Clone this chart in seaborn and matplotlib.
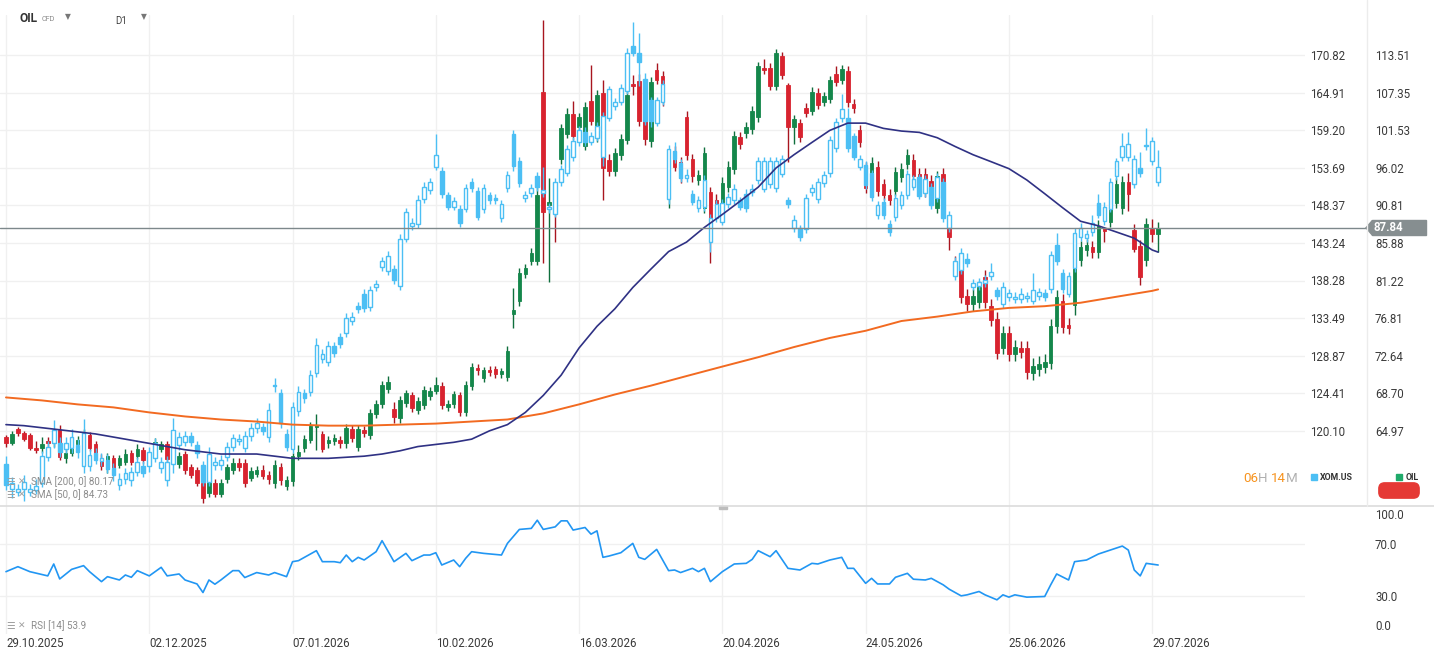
import numpy as np
import matplotlib
matplotlib.use("Agg")
import matplotlib.pyplot as plt
import matplotlib.transforms as mtransforms
from matplotlib.patches import Rectangle, Polygon, FancyBboxPatch
from matplotlib.lines import Line2D
from matplotlib.ticker import FixedLocator, NullLocator
import seaborn as sns

sns.set_theme(style="white")
plt.rcParams["font.family"] = ["Roboto", "DejaVu Sans"]

# ---------------- data ----------------
dates = ["29.10.2025", "02.12.2025", "07.01.2026", "10.02.2026", "16.03.2026",
         "20.04.2026", "24.05.2026", "25.06.2026", "29.07.2026"]
date_idx = [0, 24, 48, 72, 96, 120, 144, 168, 192]

xom_ticks = [120.10, 124.41, 128.87, 133.49, 138.28, 143.24, 148.37, 153.69, 159.20, 164.91, 170.82]
oil_ticks = [64.97, 68.70, 72.64, 76.81, 81.22, 85.88, 90.81, 96.02, 101.53, 107.35, 113.51]
oil_last = 87.84

oil_open = [64.4, 63.8, 65.2, 64.8, 64.6, 63.4, 63.4, 64.0, 63.8, 65.1,
            62.4, 62.9, 63.7, 64.1, 64.6, 63.7, 62.4, 61.4, 62.4, 61.8,
            62.1, 62.9, 62.6, 63.2, 62.2, 63.0, 63.3, 63.7, 62.3, 61.9,
            62.8, 61.6, 61.3, 60.2, 59.3, 60.2, 59.2, 60.5, 61.3, 62.0,
            62.0, 60.6, 61.0, 61.3, 60.9, 60.2, 61.6, 59.9, 60.3, 62.6,
            63.4, 64.1, 65.4, 64.7, 63.8, 64.0, 64.1, 63.8, 65.2, 63.5,
            65.1, 64.6, 66.6, 67.6, 69.2, 67.1, 66.2, 67.7, 68.5, 67.0,
            67.5, 68.4, 69.0, 69.5, 67.3, 67.6, 68.5, 66.8, 69.5, 71.3,
            70.3, 71.1, 71.2, 70.7, 70.4, 77.3, 78.8, 82.0, 83.6, 83.6,
            107.5, 90.9, 91.0, 97.3, 101.0, 104.0, 102.0, 99.2, 106.0, 100.5,
            107.35, 97.2, 95.6, 97.8, 100.0, 108.8, 109.2, 106.1, 99.9, 111.0,
            110.0, 92.1, 98.4, 96.8, 103.6, 97.3, 94.3, 90.5, 92.6, 91.5,
            91.0, 93.3, 95.9, 100.5, 101.1, 101.7, 103.5, 111.3, 111.3, 108.4,
            113.3, 108.6, 102.0, 102.6, 104.9, 104.5, 107.35, 105.9, 106.4, 110.3,
            109.4, 110.9, 105.6, 101.5, 96.0, 94.4, 96.2, 93.7, 92.2, 92.8,
            94.7, 96.6, 97.2, 95.2, 95.2, 94.2, 90.5, 95.2, 87.9, 83.4,
            82.8, 79.4, 78.4, 78.7, 81.7, 78.2, 76.7, 73.5, 75.1, 72.8,
            73.5, 73.5, 70.8, 71.2, 71.5, 71.9, 75.9, 78.8, 76.0, 78.3,
            83.7, 85.0, 85.4, 84.7, 87.8, 88.6, 91.2, 90.4, 94.0, 87.5,
            85.5, 83.7, 87.7, 87.1]
oil_close = [63.8, 64.7, 64.8, 64.2, 63.4, 63.2, 63.7, 63.8, 64.4, 62.5,
             62.9, 63.4, 64.1, 64.8, 63.4, 62.9, 61.7, 62.6, 61.4, 62.4,
             62.8, 62.1, 63.3, 62.2, 62.5, 63.9, 63.7, 62.3, 62.6, 62.6,
             61.3, 60.9, 60.2, 58.8, 60.3, 59.2, 60.2, 61.6, 62.0, 61.6,
             60.2, 61.2, 61.3, 60.8, 60.5, 61.8, 60.4, 60.4, 62.6, 63.0,
             64.2, 65.5, 65.6, 63.3, 64.1, 64.3, 63.8, 65.3, 64.3, 65.2,
             64.8, 66.7, 67.6, 69.6, 69.9, 66.3, 68.0, 68.7, 67.2, 67.9,
             69.1, 69.0, 69.6, 67.5, 67.6, 68.6, 66.8, 69.6, 71.5, 71.1,
             71.1, 70.9, 70.7, 71.0, 73.2, 77.8, 82.2, 82.8, 84.6, 92.2,
             89.9, 91.3, 90.0, 101.8, 104.0, 100.6, 103.5, 105.1, 102.9, 107.0,
             96.0, 95.6, 98.2, 100.2, 106.9, 108.4, 103.0, 100.2, 109.1, 109.4,
             106.0, 95.1, 96.2, 94.6, 97.8, 94.8, 95.0, 98.1, 88.9, 90.0,
             93.9, 96.2, 100.6, 99.5, 102.0, 104.5, 111.6, 111.0, 108.4, 113.8,
             110.2, 102.0, 103.2, 100.5, 104.2, 107.5, 105.4, 106.8, 109.4, 109.1,
             111.1, 105.8, 104.9, 99.7, 93.2, 96.7, 92.8, 92.2, 91.5, 95.4,
             95.9, 97.9, 94.8, 94.1, 92.6, 93.3, 94.8, 94.0, 86.7, 83.0,
             79.3, 78.4, 79.4, 80.4, 78.7, 76.6, 73.0, 75.1, 72.8, 73.6,
             73.1, 70.9, 71.6, 71.8, 72.0, 75.9, 79.3, 75.8, 75.7, 82.8,
             85.4, 85.6, 84.7, 88.1, 87.4, 90.4, 93.8, 94.0, 92.4, 85.1,
             81.7, 88.3, 87.1, 87.84]
oil_high = [64.6, 65.0, 65.4, 65.0, 64.8, 64.0, 64.4, 64.4, 64.8, 65.6,
            63.5, 63.7, 64.5, 65.2, 64.9, 64.0, 62.8, 62.9, 62.7, 62.7,
            63.3, 63.2, 63.7, 63.5, 62.9, 64.3, 64.0, 64.0, 62.9, 63.0,
            63.1, 61.9, 61.6, 60.5, 60.7, 60.5, 60.5, 61.9, 62.4, 62.4,
            62.3, 61.6, 61.7, 61.8, 61.2, 62.2, 62.0, 60.8, 62.9, 63.6,
            64.6, 65.9, 66.6, 65.0, 64.5, 64.7, 64.5, 65.7, 65.6, 65.6,
            65.5, 67.1, 68.0, 70.0, 70.5, 67.8, 68.4, 69.1, 68.9, 68.3,
            69.5, 69.4, 70.4, 69.9, 68.0, 69.0, 68.9, 70.0, 71.9, 71.8,
            71.5, 71.6, 71.6, 71.4, 73.7, 80.3, 82.8, 83.3, 85.2, 93.5,
            119.5, 94.6, 91.6, 102.4, 105.0, 106.0, 104.2, 105.8, 111.9, 107.8,
            109.4, 98.0, 98.9, 101.0, 107.6, 110.2, 110.4, 107.0, 109.8, 112.1,
            110.8, 95.8, 99.2, 97.6, 104.5, 98.0, 95.7, 99.0, 93.3, 92.3,
            94.7, 97.0, 101.4, 101.3, 102.8, 105.3, 112.4, 112.9, 112.1, 114.5,
            114.1, 108.9, 103.9, 103.3, 105.7, 108.3, 108.1, 107.5, 110.1, 111.6,
            111.9, 111.7, 106.3, 102.3, 96.8, 97.5, 97.0, 94.5, 93.0, 96.2,
            96.7, 98.7, 98.0, 96.0, 96.0, 95.0, 95.6, 96.0, 88.7, 84.2,
            83.6, 80.2, 80.2, 81.2, 82.5, 79.0, 77.5, 75.9, 75.9, 74.4,
            74.3, 74.3, 72.4, 72.6, 72.8, 76.7, 80.1, 79.6, 76.8, 83.6,
            86.2, 86.4, 86.2, 88.9, 88.0, 91.2, 94.6, 94.8, 95.3, 88.4,
            86.3, 89.1, 89.0, 88.6]
oil_low = [63.5, 63.6, 64.5, 64.0, 63.2, 62.9, 62.9, 63.4, 63.5, 62.2,
           62.0, 62.6, 63.4, 63.9, 63.1, 62.6, 61.3, 61.1, 61.0, 61.5,
           61.8, 61.8, 62.3, 61.9, 61.9, 62.7, 63.0, 62.0, 62.0, 61.5,
           61.0, 60.6, 59.9, 58.4, 58.9, 58.9, 58.9, 60.2, 61.0, 61.2,
           59.8, 60.3, 60.7, 60.5, 60.1, 59.7, 60.0, 59.5, 59.9, 62.2,
           63.0, 63.8, 63.2, 63.0, 63.4, 63.6, 63.4, 63.4, 63.9, 63.1,
           64.4, 64.2, 66.2, 67.2, 68.8, 65.8, 65.8, 67.3, 66.8, 66.6,
           67.1, 68.0, 68.6, 67.1, 66.9, 67.2, 66.4, 66.4, 69.1, 70.6,
           69.9, 70.5, 70.3, 70.3, 70.0, 75.7, 78.2, 81.5, 83.1, 83.1,
           83.4, 81.1, 86.0, 96.6, 100.4, 100.0, 101.4, 98.6, 102.3, 99.8,
           91.5, 94.8, 94.9, 97.1, 99.4, 106.9, 102.2, 99.3, 99.1, 108.7,
           105.2, 90.4, 95.5, 93.9, 97.1, 94.0, 93.6, 89.8, 83.4, 89.3,
           90.3, 92.6, 95.2, 98.8, 100.4, 101.0, 102.8, 110.3, 107.7, 107.7,
           109.5, 96.8, 99.5, 99.8, 103.5, 103.8, 104.7, 105.2, 105.7, 108.4,
           108.7, 105.1, 104.2, 99.0, 92.5, 93.7, 92.1, 91.5, 90.8, 92.1,
           94.0, 95.9, 94.1, 93.4, 91.9, 92.6, 89.8, 93.3, 85.0, 82.3,
           78.6, 77.7, 77.7, 78.0, 78.0, 75.9, 72.3, 72.8, 72.1, 72.1,
           72.4, 70.2, 70.1, 70.5, 70.8, 71.2, 75.2, 75.1, 75.0, 77.2,
           83.0, 84.3, 84.0, 84.0, 86.0, 87.9, 90.5, 89.7, 90.1, 84.7,
           80.7, 83.0, 86.0, 84.8]

xom_open = [116.4, 113.7, 113.4, 113.7, 113.4, 113.6, 114.4, 117.2, 118.7, 118.7,
            118.1, 118.2, 118.5, 116.2, 116.2, 117.6, 116.7, 116.9, 116.0, 114.2,
            114.8, 114.7, 115.6, 116.2, 116.2, 117.1, 116.0, 114.7, 116.4, 118.5,
            118.9, 119.5, 118.5, 116.3, 114.5, 116.3, 116.3, 117.2, 118.3, 119.0,
            118.2, 119.5, 120.4, 120.5, 119.4, 125.2, 124.4, 119.8, 118.1, 122.3,
            124.4, 124.6, 126.8, 128.5, 128.1, 130.0, 131.1, 131.6, 133.1, 135.0,
            136.6, 134.9, 137.4, 140.0, 139.5, 139.8, 137.6, 143.8, 145.5, 145.8,
            149.2, 150.5, 153.8, 153.2, 149.8, 148.2, 147.9, 147.9, 151.6, 150.4,
            147.8, 149.8, 149.4, 146.6, 150.8, 158.6, 154.7, 149.4, 150.1, 152.5,
            150.1, 147.8, 147.2, 151.6, 153.0, 155.2, 157.4, 159.0, 157.5, 158.1,
            155.2, 161.1, 162.8, 163.5, 165.2, 172.2, 171.2, 167.1, 163.7, 160.3,
            163.5, 149.3, 156.1, 154.4, 152.2, 149.9, 148.0, 148.1, 143.4, 146.6,
            146.1, 148.5, 149.1, 149.1, 150.0, 150.2, 151.9, 150.7, 151.3, 150.8,
            152.8, 149.1, 145.2, 145.2, 145.1, 150.2, 149.2, 151.5, 152.9, 156.5,
            161.0, 161.0, 158.3, 153.8, 154.1, 152.9, 147.0, 148.9, 145.8, 146.7,
            148.4, 149.8, 151.0, 152.3, 150.1, 151.0, 149.4, 151.7, 145.2, 138.8,
            139.6, 141.1, 137.5, 137.6, 138.0, 138.8, 137.0, 135.3, 136.2, 135.9,
            135.9, 136.0, 135.7, 136.3, 136.7, 137.2, 143.0, 139.3, 136.6, 139.9,
            144.0, 143.9, 144.7, 148.7, 146.2, 147.9, 152.5, 155.2, 155.2, 151.3,
            153.6, 156.8, 154.6, 151.6]
xom_close = [114.2, 114.4, 113.7, 114.5, 113.7, 114.1, 117.3, 118.3, 120.2, 117.7,
             118.7, 119.4, 117.7, 119.9, 117.4, 116.9, 117.1, 115.9, 115.2, 114.8,
             115.5, 115.6, 116.6, 115.5, 117.7, 118.7, 116.6, 116.6, 120.2, 119.4,
             119.5, 118.9, 117.6, 114.5, 117.5, 116.6, 116.9, 118.3, 119.3, 119.2,
             119.5, 120.4, 121.0, 120.1, 122.5, 125.4, 121.0, 118.3, 122.8, 124.6,
             123.8, 126.6, 130.2, 129.1, 130.0, 129.2, 130.3, 133.5, 133.6, 134.6,
             134.8, 137.0, 137.8, 140.8, 141.5, 138.3, 143.8, 147.4, 146.0, 149.1,
             151.0, 151.6, 155.6, 149.9, 148.2, 149.0, 145.9, 150.8, 150.8, 146.8,
             150.8, 149.1, 149.1, 148.5, 152.6, 154.0, 151.5, 149.8, 150.8, 150.9,
             150.5, 148.1, 151.6, 153.5, 156.4, 157.6, 159.2, 157.4, 158.3, 159.8,
             161.3, 165.4, 163.4, 165.6, 171.2, 171.2, 169.7, 160.6, 160.6, 163.7,
             166.2, 156.4, 154.9, 152.2, 152.6, 148.9, 149.1, 152.0, 146.6, 148.5,
             148.7, 149.5, 150.7, 148.2, 148.0, 150.7, 154.7, 154.6, 154.6, 154.6,
             155.0, 148.5, 146.4, 144.0, 149.4, 150.8, 151.6, 152.6, 157.7, 160.4,
             162.4, 156.5, 155.3, 154.9, 151.2, 149.5, 148.4, 147.0, 144.7, 149.4,
             149.8, 152.8, 152.1, 149.7, 152.1, 148.4, 152.4, 146.6, 147.0, 140.8,
             141.9, 140.6, 137.9, 138.1, 138.4, 139.4, 136.3, 137.5, 136.7, 136.2,
             136.5, 136.3, 137.0, 136.8, 136.2, 141.6, 140.8, 137.2, 138.8, 144.6,
             145.3, 144.4, 146.0, 147.1, 148.2, 151.7, 154.6, 156.9, 157.1, 155.0,
             152.9, 157.0, 157.6, 153.8]
xom_high = [117.3, 115.0, 114.3, 115.2, 114.3, 114.8, 117.8, 119.0, 121.3, 119.4,
            119.4, 120.3, 119.2, 121.4, 118.1, 118.2, 117.6, 117.5, 116.5, 115.4,
            116.0, 116.1, 117.2, 116.8, 118.3, 119.3, 117.2, 117.3, 121.5, 120.0,
            120.1, 120.0, 119.0, 116.8, 118.3, 117.2, 117.4, 118.8, 119.8, 119.7,
            120.1, 121.0, 121.6, 121.0, 123.3, 126.2, 124.9, 120.3, 123.4, 125.2,
            124.9, 127.2, 131.0, 129.7, 130.7, 130.5, 131.6, 134.1, 134.2, 135.5,
            137.2, 137.6, 138.4, 141.4, 142.2, 140.3, 144.5, 148.0, 146.6, 149.8,
            151.6, 152.2, 158.6, 153.8, 150.3, 149.6, 148.4, 151.4, 152.2, 151.0,
            151.4, 150.3, 150.0, 149.1, 153.2, 159.2, 155.3, 150.4, 151.4, 153.1,
            153.8, 148.7, 152.2, 154.1, 157.0, 158.2, 159.8, 159.6, 158.9, 160.4,
            162.0, 166.0, 164.0, 166.2, 172.0, 176.2, 174.4, 168.0, 164.3, 164.3,
            166.8, 157.0, 157.4, 155.0, 153.5, 150.5, 149.7, 152.6, 147.2, 149.1,
            149.3, 150.1, 151.3, 149.6, 150.6, 151.3, 155.3, 155.2, 155.2, 155.2,
            155.6, 149.6, 147.0, 145.7, 150.0, 151.4, 152.2, 153.2, 158.3, 161.0,
            164.7, 162.6, 158.8, 155.5, 154.6, 153.4, 149.0, 149.4, 146.3, 150.0,
            150.4, 153.4, 152.7, 152.8, 152.7, 151.5, 153.0, 152.2, 147.6, 141.4,
            142.5, 141.9, 138.5, 138.6, 139.0, 140.5, 137.5, 138.1, 137.2, 136.8,
            137.3, 136.8, 139.2, 137.3, 137.2, 142.2, 144.6, 139.8, 139.4, 145.3,
            146.0, 145.0, 147.0, 150.0, 148.8, 152.2, 155.1, 158.8, 158.9, 155.6,
            156.0, 159.5, 158.2, 156.2]
xom_low = [113.6, 112.8, 113.0, 112.5, 113.0, 113.2, 113.9, 116.7, 118.2, 117.2,
           117.6, 117.6, 117.1, 115.5, 115.7, 116.4, 116.2, 115.4, 114.6, 113.6,
           114.3, 114.1, 115.1, 115.0, 115.6, 116.6, 115.5, 114.1, 115.5, 118.0,
           118.4, 118.4, 117.1, 114.0, 114.0, 115.8, 115.8, 116.7, 117.8, 118.5,
           117.7, 119.0, 119.9, 119.6, 118.9, 124.5, 120.4, 117.8, 117.6, 121.8,
           123.3, 124.1, 126.3, 128.0, 127.6, 128.7, 129.8, 131.1, 132.6, 134.1,
           134.3, 134.4, 136.9, 139.5, 139.0, 137.8, 137.1, 143.3, 145.0, 145.3,
           148.7, 150.0, 153.3, 149.4, 147.7, 147.7, 145.4, 147.4, 150.3, 146.3,
           147.3, 148.6, 148.6, 146.1, 150.3, 153.2, 150.9, 148.9, 149.6, 150.4,
           149.6, 147.3, 146.7, 151.1, 152.5, 154.7, 156.9, 156.9, 157.0, 157.6,
           154.0, 160.6, 162.3, 163.0, 164.7, 170.7, 165.9, 160.0, 159.6, 159.8,
           163.0, 148.6, 154.4, 151.7, 151.7, 148.4, 147.5, 147.6, 142.0, 146.1,
           145.6, 148.0, 148.6, 147.7, 147.5, 149.7, 151.4, 150.2, 150.8, 150.3,
           152.3, 148.0, 144.7, 143.5, 144.6, 149.7, 148.7, 151.0, 152.4, 156.0,
           160.5, 156.0, 154.8, 153.3, 150.7, 149.0, 146.5, 146.5, 144.2, 146.2,
           147.9, 149.3, 150.5, 149.2, 149.6, 147.9, 148.9, 146.1, 144.7, 138.3,
           139.1, 140.1, 137.0, 137.1, 137.5, 138.3, 135.8, 134.8, 135.7, 135.4,
           135.4, 135.5, 135.2, 135.8, 135.7, 136.7, 140.3, 136.7, 136.1, 139.4,
           143.5, 143.4, 144.2, 146.6, 145.7, 147.4, 152.0, 154.7, 154.7, 150.8,
           152.4, 156.3, 154.1, 151.1]

sma50_idx = [0, 3, 6, 9, 12, 15, 18, 21, 24, 27, 30, 33, 36, 39, 42, 45, 48, 51, 54,
             57, 60, 63, 66, 69, 72, 75, 78, 81, 84, 87, 90, 93, 96, 99, 102, 105,
             108, 111, 114, 117, 120, 123, 126, 129, 132, 135, 138, 141, 144, 147,
             150, 153, 156, 159, 162, 165, 168, 171, 174, 177, 180, 183, 186, 189,
             192, 193]
sma50 = [65.6, 65.5, 65.3, 65.1, 64.9, 64.7, 64.4, 64.1, 63.8, 63.5, 63.2, 63.0,
         62.8, 62.8, 62.8, 62.6, 62.4, 62.4, 62.4, 62.5, 62.6, 62.8, 63.1, 63.5,
         63.7, 63.9, 64.2, 65.0, 65.6, 66.8, 68.5, 70.6, 73.5, 75.9, 77.9, 80.4,
         82.6, 84.8, 86.0, 87.9, 89.6, 91.4, 93.3, 96.0, 97.9, 99.7, 101.5, 102.6,
         102.6, 101.8, 101.4, 101.2, 100.4, 99.1, 97.9, 96.9, 95.9, 94.3, 92.4,
         90.5, 88.7, 88.1, 87.3, 86.5, 85.0, 84.73]
sma200_idx = [0, 6, 12, 18, 24, 30, 36, 42, 48, 54, 60, 66, 72, 78, 84, 90, 96,
              102, 108, 114, 120, 126, 132, 138, 144, 150, 156, 162, 168, 174, 180,
              186, 192, 193]
sma200 = [68.3, 68.0, 67.6, 67.3, 66.8, 66.4, 66.1, 65.9, 65.6, 65.5, 65.5, 65.6,
          65.7, 65.9, 66.1, 66.7, 67.6, 68.6, 69.5, 70.5, 71.5, 72.5, 73.6, 74.6,
          75.4, 76.5, 77.0, 77.6, 78.0, 78.2, 78.6, 79.3, 80.0, 80.17]

rsi_idx = [0, 2, 4, 7, 8, 9, 11, 13, 14, 16, 17, 19, 20, 21, 22, 24, 26, 27, 29, 30,
           32, 33, 34, 35, 36, 38, 39, 40, 42, 44, 45, 47, 48, 49, 52, 53, 55, 56, 57, 58,
           59, 60, 62, 63, 65, 67, 68, 70, 71, 72, 73, 75, 76, 77, 78, 80, 83, 84, 86, 88,
           89, 90, 92, 93, 94, 95, 97, 98, 99, 100, 101, 103, 105, 106, 107, 109, 110, 111, 112, 113,
           115, 116, 117, 118, 120, 122, 124, 125, 126, 128, 129, 131, 133, 135, 136, 138, 140, 141, 142, 144,
           145, 146, 148, 149, 151, 152, 154, 155, 157, 158, 160, 161, 163, 164, 166, 167, 168, 169, 171, 174,
           175, 176, 178, 179, 181, 183, 185, 187, 188, 189, 190, 191, 193]
rsi_val = [48.7, 52.6, 48.7, 45.4, 54.7, 43.0, 50.5, 53.4, 48.7, 40.9, 44.8, 42.2, 46.1, 44.3, 49.5, 45.4, 52.1, 45.4, 46.9, 42.2,
           39.1, 32.4, 42.2, 38.9, 42.2, 49.5, 49.5, 44.1, 48.0, 46.1, 48.0, 44.8, 56.5, 57.3, 65.1, 56.5, 56.5, 55.7, 61.7, 56.5,
           59.9, 57.8, 64.3, 72.9, 56.5, 63.0, 57.3, 61.7, 61.7, 63.5, 53.9, 57.8, 52.6, 59.1, 64.3, 63.0, 61.7, 70.8, 81.7, 82.5,
           88.9, 81.7, 83.7, 88.4, 88.4, 81.2, 83.2, 78.0, 80.6, 59.9, 60.9, 63.5, 70.8, 59.9, 58.3, 66.1, 57.8, 49.5, 50.0, 48.0,
           51.3, 48.7, 51.3, 40.9, 48.7, 54.7, 55.2, 58.3, 65.1, 60.4, 65.1, 51.3, 50.0, 55.2, 54.7, 57.8, 59.9, 51.3, 51.3, 39.6,
           43.5, 39.1, 39.1, 44.3, 47.4, 42.8, 42.2, 43.5, 38.4, 35.0, 29.8, 30.6, 33.2, 30.6, 26.7, 30.6, 28.8, 30.6, 28.8, 29.3,
           38.4, 46.9, 42.2, 56.5, 57.8, 62.5, 65.6, 68.7, 65.6, 50.0, 45.4, 55.2, 53.9]

for series in (oil_open, oil_high, oil_low, xom_open, xom_close, xom_high, xom_low):
    assert len(series) == len(oil_close), len(series)
assert len(rsi_idx) == len(rsi_val)
assert len(sma50_idx) == len(sma50) and len(sma200_idx) == len(sma200)

# ---------------- layout ----------------
W, H = 1434, 659


def box(x0, y0, x1, y1):
    return [x0 / W, 1 - y1 / H, (x1 - x0) / W, (y1 - y0) / H]


GREEN, GREEN_W = "#14874b", "#0f6f3d"
RED, RED_W = "#d8232f", "#a8151f"
BLUE = "#4cbff4"
GRID = "#f0f0f0"
TXT = "#3a3a3a"

fig = plt.figure(figsize=(W / 100, H / 100), dpi=100)
fig.patch.set_facecolor("white")

ax_oil = fig.add_axes(box(0, 15, 1305, 506))
ax_xom = ax_oil.twinx()
ax_sma = ax_oil.twinx()
ax_rsi = fig.add_axes(box(0, 506, 1305, 634))


def draw_candles(ax, o, h, l, c, up_face, up_edge, dn_face, dn_edge, wick_up, wick_dn, width, edge_lw):
    o, h, l, c = (np.asarray(v, dtype=float) for v in (o, h, l, c))
    x = np.arange(len(o))
    up = c >= o
    lo = np.minimum(o, c)
    hi = np.maximum(o, c)
    for mask, wc, fc, ec in ((up, wick_up, up_face, up_edge), (~up, wick_dn, dn_face, dn_edge)):
        ax.vlines(x[mask], l[mask], h[mask], color=wc, lw=1.0, zorder=2)
        ax.bar(x[mask], hi[mask] - lo[mask], bottom=lo[mask], width=width,
               color=fc, edgecolor=ec, linewidth=edge_lw, zorder=3)


for a in (ax_oil, ax_xom, ax_sma):
    a.set_yscale("log")

draw_candles(ax_oil, oil_open, oil_high, oil_low, oil_close,
             GREEN, GREEN, RED, RED, GREEN_W, RED_W, 0.6, 0.6)
draw_candles(ax_xom, xom_open, xom_high, xom_low, xom_close,
             "white", BLUE, BLUE, BLUE, BLUE, BLUE, 0.62, 1.0)

sns.lineplot(x=sma200_idx, y=sma200, ax=ax_sma, color="#f26a21", lw=1.4, legend=False)
sns.lineplot(x=sma50_idx, y=sma50, ax=ax_sma, color="#2f3184", lw=1.2, legend=False)

sns.lineplot(x=rsi_idx, y=rsi_val, ax=ax_rsi, color="#2196f3", lw=1.2, legend=False)

# limits
xlim = (-1.0, 217.6)
ax_oil.set_ylim(58.14, 120.45)
ax_sma.set_ylim(58.14, 120.45)
ax_xom.set_ylim(111.93, 177.35)
ax_oil.set_xlim(*xlim)
ax_rsi.set_xlim(*xlim)
ax_rsi.set_ylim(0, 100)

for a in (ax_oil, ax_xom, ax_sma, ax_rsi):
    for s in a.spines.values():
        s.set_visible(False)
    a.set_xlabel("")
    a.set_ylabel("")

# y ticks
ax_oil.yaxis.tick_right()
ax_oil.yaxis.set_major_locator(FixedLocator(oil_ticks))
ax_oil.yaxis.set_minor_locator(NullLocator())
ax_oil.set_yticklabels([f"{v:.2f}" for v in oil_ticks])
ax_oil.tick_params(axis="y", length=0, pad=50.4, labelsize=8.3, labelcolor=TXT)

ax_xom.yaxis.set_major_locator(FixedLocator(xom_ticks))
ax_xom.yaxis.set_minor_locator(NullLocator())
ax_xom.set_yticklabels([f"{v:.2f}" for v in xom_ticks])
ax_xom.tick_params(axis="y", length=0, pad=3.6, labelsize=8.3, labelcolor=TXT)

ax_sma.yaxis.set_major_locator(NullLocator())
ax_sma.yaxis.set_minor_locator(NullLocator())

ax_oil.set_xticks(date_idx)
ax_oil.tick_params(axis="x", length=0, labelbottom=False)
ax_oil.grid(True, color=GRID, lw=1)
ax_oil.set_axisbelow(True)

# RSI axis
ax_rsi.set_xticks(date_idx, dates, ha="left")
ax_rsi.tick_params(axis="x", length=0, pad=2.5, labelsize=8.3, labelcolor=TXT)
ax_rsi.yaxis.tick_right()
ax_rsi.set_yticks([30, 70], ["30.0", "70.0"])
ax_rsi.tick_params(axis="y", length=0, pad=50.4, labelsize=8.3, labelcolor=TXT)
ax_rsi.grid(True, color=GRID, lw=1)
ax_rsi.set_axisbelow(True)
rtrans = mtransforms.blended_transform_factory(ax_rsi.transAxes, ax_rsi.transData)
ax_rsi.annotate("100.0", xy=(1375 / 1305, 100), xycoords=rtrans, xytext=(0, -2.5),
                textcoords="offset points", ha="left", va="top", fontsize=8.3, color=TXT,
                annotation_clip=False)
ax_rsi.annotate("0.0", xy=(1375 / 1305, 0), xycoords=rtrans, xytext=(0, 0.5),
                textcoords="offset points", ha="left", va="bottom", fontsize=8.3, color=TXT,
                annotation_clip=False)

# separators
fig.add_artist(Line2D([0, 1], [1 - 506 / H] * 2, color="#dcdcdc", lw=1.2))
fig.add_artist(Line2D([1367 / W] * 2, [1 - 506 / H, 1], color="#ececec", lw=1))
fig.add_artist(Rectangle((719 / W, 1 - 508.5 / H), 8 / W, 2.5 / H, color="#bdbdbd"))

# last price line + tag
ptrans = mtransforms.blended_transform_factory(ax_sma.transAxes, ax_sma.transData)
ax_sma.add_line(Line2D([0, 1366 / 1305], [oil_last, oil_last], transform=ptrans,
                       color="#7d888b", lw=1, clip_on=False, zorder=6))
y_pix = ax_sma.transData.transform((0, oil_last))[1]
yf = y_pix / H
fig.add_artist(Rectangle((1372 / W, yf - 7.5 / H), 54 / W, 15 / H, color="#868e90"))
fig.add_artist(Polygon([(1366 / W, yf), (1372.5 / W, yf + 7.5 / H), (1372.5 / W, yf - 7.5 / H)],
                       closed=True, color="#868e90"))
fig.text(1374 / W, yf, f"{oil_last:.2f}", color="white", fontsize=8.3, fontweight="bold",
         ha="left", va="center")

# header
fig.text(20 / W, 1 - 19 / H, "OIL", fontsize=8.6, fontweight="bold", color="#333333", va="center")
fig.text(42 / W, 1 - 19.5 / H, "CFD", fontsize=5.2, color="#8a8a8a", va="center")
fig.text(65 / W, 1 - 17 / H, "▼", fontsize=5.5, color="#777777", va="center", family="DejaVu Sans")
fig.text(115 / W, 1 - 20.5 / H, "D1", fontsize=7, color="#444444", va="center")
fig.text(141 / W, 1 - 17 / H, "▼", fontsize=5.5, color="#777777", va="center", family="DejaVu Sans")

# indicator legends
LG = "#8c8c8c"
for ypx, label in ((482, "SMA [200, 0] 80.17"), (495, "SMA [50, 0] 84.73"), (626, "RSI [14] 53.9")):
    fig.text(6 / W, 1 - ypx / H, "☰", fontsize=7, color="#a0a0a0", va="center", family="DejaVu Sans")
    fig.text(18 / W, 1 - ypx / H, "✕", fontsize=6.5, color="#a0a0a0", va="center", family="DejaVu Sans")
    fig.text(31 / W, 1 - ypx / H, label, fontsize=7.1, color=LG, va="center")

# countdown
ORANGE = "#f7931e"
for xpx, s, col in ((1243, "06", ORANGE), (1258, "H", "#b0b0b0"), (1271, "14", ORANGE), (1286, "M", "#b0b0b0")):
    fig.text(xpx / W, 1 - 478 / H, s, fontsize=9.6, color=col, va="center")

# series legend
fig.add_artist(Rectangle((1311 / W, 1 - 480 / H), 6 / W, 6 / H, color=BLUE))
fig.text(1320 / W, 1 - 477.5 / H, "XOM.US", fontsize=6.3, fontweight="bold", color="#333333", va="center")
fig.add_artist(Rectangle((1396 / W, 1 - 480 / H), 6 / W, 6 / H, color="#1faa6a"))
fig.text(1406 / W, 1 - 477.5 / H, "OIL", fontsize=6.3, fontweight="bold", color="#333333", va="center")
fig.add_artist(FancyBboxPatch((1381 / W, 1 - 496 / H), 36 / W, 11 / H,
                              boxstyle="round,pad=0.0015,rounding_size=0.004",
                              color="#e53935", mutation_aspect=W / H))

fig.savefig("out.png", dpi=100, facecolor="white")
